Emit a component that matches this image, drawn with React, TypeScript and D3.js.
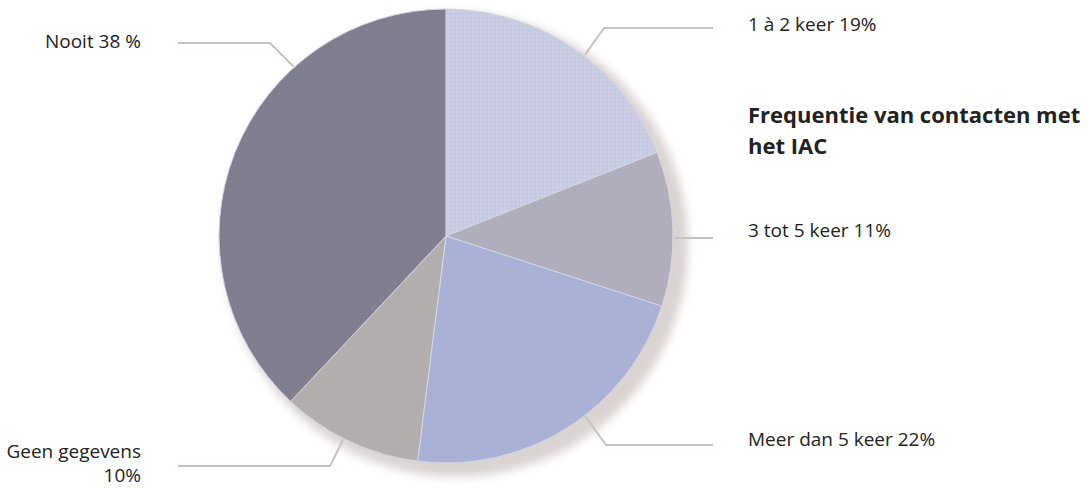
import React from "react";
import * as d3 from "d3";

const categories = ["1 à 2 keer", "3 tot 5 keer", "Meer dan 5 keer", "Geen gegevens", "Nooit"];
const values = [19, 11, 22, 10, 38];
const labelTexts = [["1 à 2 keer 19%"], ["3 tot 5 keer 11%"], ["Meer dan 5 keer 22%"], ["Geen gegevens", "10%"], ["Nooit 38 %"]];
const colors = ["#cacce4", "#b0adbd", "#a9b2d6", "#b2aeae", "#7e7e8e"];
const titleLines = ["Frequentie van contacten met", "het IAC"];

// leader layout: anchor angle on rim (deg, clockwise from top), elbow point, side
const leaders = [
  { angle: 37.5, elbow: [604, 28], side: "right", labelY: [31] },
  { angle: 90.5, elbow: null, side: "right", labelY: [237] },
  { angle: 142.3, elbow: [606, 445], side: "right", labelY: [446] },
  { angle: 206.8, elbow: [330, 466], side: "left", labelY: [458, 482] },
  { angle: 318, elbow: [270, 43], side: "left", labelY: [48] },
];

export default function App() {
  const W = 1089, H = 488;
  const cx = 446, cy = 236, r = 227;
  const pie = d3.pie<number>().sort(null).value((d) => d);
  const arcs = pie(values);
  const arcGen = d3.arc<d3.PieArcDatum<number>>().innerRadius(0).outerRadius(r);
  const font = "'Open Sans', 'Noto Sans', sans-serif";
  const rightLineEnd = 713, leftLineEnd = 178, rightLabelX = 748, leftLabelX = 141;

  return (
    <svg width={W} height={H} style={{ position: "absolute", left: 0, top: 0, background: "#fff" }}>
      <defs>
        <filter id="sh" x="-20%" y="-20%" width="140%" height="140%">
          <feGaussianBlur stdDeviation="5" />
        </filter>
        <pattern id="dots" width="4" height="4" patternUnits="userSpaceOnUse">
          <rect x="1" y="1" width="1" height="1" fill="#8fa6d8" opacity="0.55" />
        </pattern>
      </defs>
      <circle cx={cx + 10} cy={cy + 9} r={r + 5} fill="#d9d3d2" filter="url(#sh)" />
      <g transform={`translate(${cx},${cy})`}>
        {arcs.map((a, i) => (
          <g key={categories[i]}>
            <path d={arcGen(a) || ""} fill={colors[i]} stroke="#d6d6e6" strokeWidth={1} />
            <path d={arcGen(a) || ""} fill="url(#dots)" opacity={i === 4 ? 0.4 : 0.8} />
          </g>
        ))}
      </g>
      {leaders.map((l, i) => {
        const rad = (l.angle * Math.PI) / 180;
        const ax = cx + (r + 1) * Math.sin(rad);
        const ay = cy - (r + 1) * Math.cos(rad);
        const endX = l.side === "right" ? rightLineEnd : leftLineEnd;
        const pts: [number, number][] = l.elbow
          ? [[ax, ay], [l.elbow[0], l.elbow[1]], [endX, l.elbow[1]]]
          : [[ax, ay], [endX, ay]];
        const line = d3.line()(pts) || "";
        return (
          <g key={"l" + i}>
            <path d={line} fill="none" stroke="#c9c1c0" strokeWidth={2} />
            {labelTexts[i].map((t, j) => (
              <text
                key={j}
                x={l.side === "right" ? rightLabelX : leftLabelX}
                y={l.labelY[j]}
                textAnchor={l.side === "right" ? "start" : "end"}
                fontFamily={font}
                fontSize={19}
                fill="#222"
              >
                {t}
              </text>
            ))}
          </g>
        );
      })}
      {titleLines.map((t, i) => (
        <text key={t} x={748} y={123 + i * 31} fontFamily={font} fontWeight="bold" fontSize={22} fill="#222">
          {t}
        </text>
      ))}
    </svg>
  );
}
